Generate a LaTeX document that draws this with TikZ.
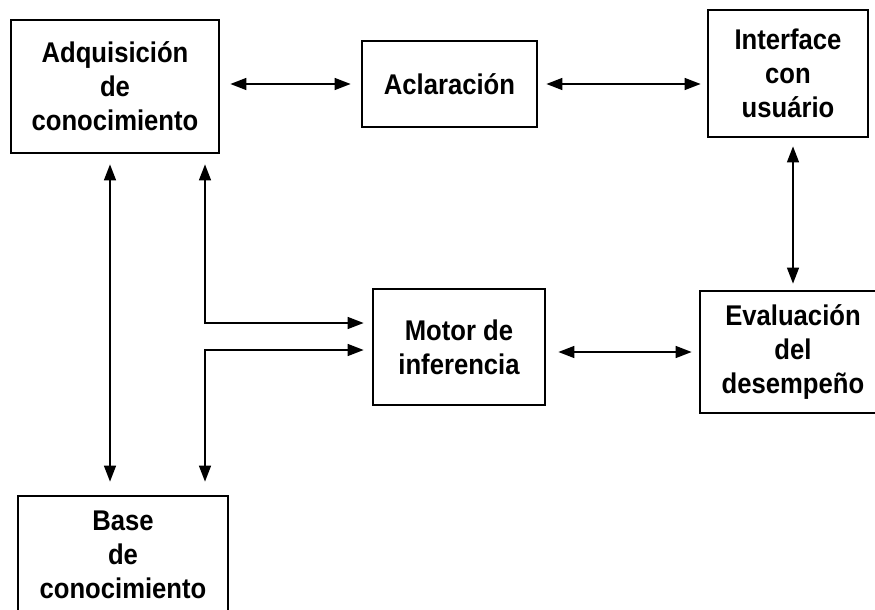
\documentclass[tikz,border=0pt]{standalone}
\usepackage{fontspec}
\setmainfont{Liberation Sans}
\newfontfamily\diagfont[FakeStretch=0.9]{Liberation Sans}
\usetikzlibrary{arrows.meta}
\begin{document}
\begin{tikzpicture}[x=1pt,y=-1pt,
  box/.style={draw=black, line width=2.8pt, rectangle, align=center, inner sep=0pt,
    font=\diagfont\fontsize{28.5}{34}\selectfont\bfseries},
  conn/.style={line width=1.5pt, {Triangle[length=16pt,width=12pt]}-{Triangle[length=16pt,width=12pt]}},
]
\useasboundingbox (0,0) rectangle (875,610);
\clip (0,0) rectangle (875,610);
\fill[white] (0,0) rectangle (875,610);

\node[box, minimum width=208pt, minimum height=133pt] (adq) at (115,86.5) {Adquisición\\de\\conocimiento};
\node[box, minimum width=175pt, minimum height=86pt] (acl) at (449.5,84) {Aclaración};
\node[box, minimum width=160pt, minimum height=127pt] (int) at (788,73.5) {Interface\\con\\usuário};
\node[box, minimum width=172pt, minimum height=116pt] (mot) at (459,347) {Motor de\\inferencia};
\node[box, minimum width=186pt, minimum height=122pt] (eva) at (793,352) {Evaluación\\del\\desempeño};
\node[box, minimum width=210pt, minimum height=118pt] (base) at (123,555) {Base\\de\\conocimiento};

\coordinate (xl) at (110,0);
\coordinate (xr) at (205,0);
\coordinate (yu) at (0,323);
\coordinate (yd) at (0,350);

\draw[conn, shorten <=10pt, shorten >=10pt] (adq.east |- acl.west) -- (acl.west);
\draw[conn, shorten <=8pt, shorten >=6pt] (acl.east) -- (acl.east -| int.west);
\draw[conn, shorten <=8pt, shorten >=6pt] (eva.north |- int.south) -- (eva.north);
\draw[conn, shorten <=12pt, shorten >=7pt] (mot.east |- eva.west) -- (eva.west);
\draw[conn, shorten <=10pt, shorten >=13pt] (adq.south -| xl) -- (base.north -| xl);
\draw[conn, shorten <=10pt, shorten >=8pt] (adq.south -| xr) |- (mot.west |- yu);
\draw[conn, shorten <=8pt, shorten >=13pt] (mot.west |- yd) -| (base.north -| xr);
\end{tikzpicture}
\end{document}
